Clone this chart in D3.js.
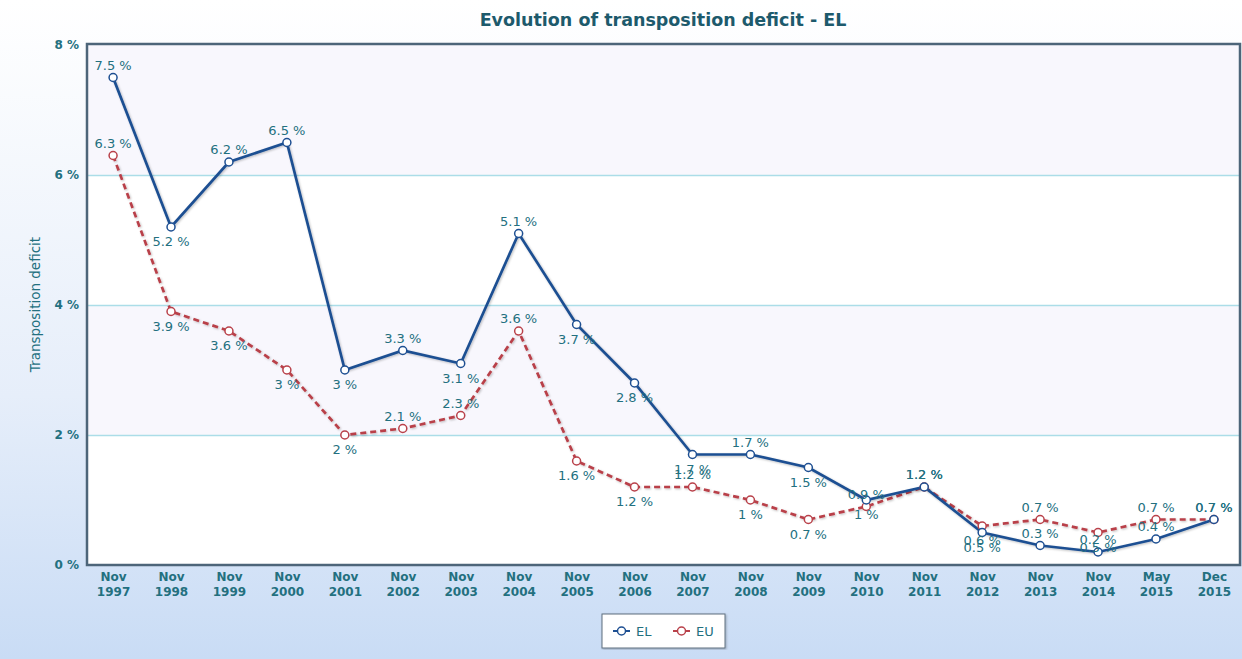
<!DOCTYPE html>
<html>
<head>
<meta charset="utf-8">
<script src="https://cdn.jsdelivr.net/npm/d3@7"></script>
<style>
  html, body { margin: 0; padding: 0; }
  body { width: 1242px; height: 659px; overflow: hidden; font-family: "DejaVu Sans", sans-serif; }
</style>
</head>
<body>
<svg id="chart" width="1242" height="659"></svg>
<script>
const months = ["Nov","Nov","Nov","Nov","Nov","Nov","Nov","Nov","Nov","Nov","Nov","Nov","Nov","Nov","Nov","Nov","Nov","Nov","May","Dec"];
const years = ["1997","1998","1999","2000","2001","2002","2003","2004","2005","2006","2007","2008","2009","2010","2011","2012","2013","2014","2015","2015"];
const elValues = [7.5, 5.2, 6.2, 6.5, 3, 3.3, 3.1, 5.1, 3.7, 2.8, 1.7, 1.7, 1.5, 1, 1.2, 0.5, 0.3, 0.2, 0.4, 0.7];
const euValues = [6.3, 3.9, 3.6, 3, 2, 2.1, 2.3, 3.6, 1.6, 1.2, 1.2, 1, 0.7, 0.9, 1.2, 0.6, 0.7, 0.5, 0.7, 0.7];
const yTicks = [0, 2, 4, 6, 8];

// label side: 1 above, -1 below
const elSide = [1,-1,1,1,-1,1,-1,1,-1,-1,-1,1,-1,-1,1,-1,1,1,1,1];
const euSide = [1,-1,-1,-1,-1,1,1,1,-1,-1,1,-1,-1,1,1,-1,1,-1,1,1];

const W = 1242, H = 659;
const m = {left: 87, right: 1240, top: 44, bottom: 565};
const teal = "#23707f";
const svg = d3.select("#chart");
const defs = svg.append("defs");

let bg = defs.append("linearGradient").attr("id", "bg").attr("x1", 0).attr("y1", 0).attr("x2", 0).attr("y2", 1);
bg.append("stop").attr("offset", "0%").attr("stop-color", "#ffffff");
bg.append("stop").attr("offset", "60%").attr("stop-color", "#e6eefa");
bg.append("stop").attr("offset", "100%").attr("stop-color", "#c9dcf5");

let sh = defs.append("filter").attr("id", "shadow").attr("x", "-5%").attr("y", "-5%").attr("width", "110%").attr("height", "110%");
sh.append("feDropShadow").attr("dx", 1).attr("dy", 1).attr("stdDeviation", 1).attr("flood-color", "#000").attr("flood-opacity", 0.25);

svg.append("rect").attr("width", W).attr("height", H).attr("fill", "url(#bg)");

let x = d3.scalePoint().domain(d3.range(years.length)).range([m.left, m.right]).padding(0.45);
let y = d3.scaleLinear().domain([0, 8]).range([m.bottom, m.top + 1]);

// alternating bands
svg.append("g").selectAll("rect").data(yTicks.slice(0, -1)).join("rect")
  .attr("x", m.left).attr("width", m.right - m.left)
  .attr("y", (d, i) => y(yTicks[i + 1])).attr("height", (d, i) => y(d) - y(yTicks[i + 1]))
  .attr("fill", (d, i) => i % 2 ? "#f8f7fd" : "#ffffff");

// grid
svg.append("g")
  .attr("transform", `translate(${m.left},0)`)
  .call(d3.axisLeft(y).tickValues(yTicks.filter(t => t > 0 && t < 8)).tickSize(-(m.right - m.left)).tickFormat(""))
  .call(g => g.select(".domain").remove())
  .call(g => g.selectAll("line").attr("stroke", "#abdde8").attr("stroke-width", 1.5));

// y tick labels
svg.append("g")
  .attr("transform", `translate(${m.left},0)`)
  .call(d3.axisLeft(y).tickValues(yTicks).tickSize(0).tickPadding(8).tickFormat(d => d + " %"))
  .call(g => g.select(".domain").remove())
  .call(g => g.selectAll("text").attr("fill", teal).attr("font-size", 12).attr("font-weight", "bold")
    .attr("font-family", "DejaVu Sans"));

// x tick labels
let xa = svg.append("g").attr("transform", `translate(0,${m.bottom})`)
  .call(d3.axisBottom(x).tickSize(0).tickFormat(""));
xa.select(".domain").remove();
xa.selectAll(".tick").each(function(d) {
  let t = d3.select(this).select("text")
    .attr("fill", teal).attr("font-size", 12).attr("font-weight", "bold")
    .attr("font-family", "DejaVu Sans").attr("y", 0);
  t.append("tspan").attr("x", 0).attr("dy", "1.3em").text(months[d]);
  t.append("tspan").attr("x", 0).attr("dy", "1.25em").text(years[d]);
});

// plot border
svg.append("rect")
  .attr("x", m.left).attr("y", m.top)
  .attr("width", m.right - m.left).attr("height", m.bottom - m.top)
  .attr("fill", "none").attr("stroke", "#4d6579").attr("stroke-width", 2.5);

let line = d3.line().x((d, i) => x(i)).y(d => y(d));

const series = [
  {name: "EL", values: elValues, side: elSide, color: "#1e4f92", dash: null},
  {name: "EU", values: euValues, side: euSide, color: "#b9414a", dash: "6,4"}
];

series.slice().reverse().forEach(s => {
  svg.append("path").datum(s.values)
    .attr("d", line).attr("fill", "none")
    .attr("stroke", s.color).attr("stroke-width", 2.7)
    .attr("stroke-dasharray", s.dash)
    .attr("filter", "url(#shadow)");
});
series.slice().reverse().forEach(s => {
  svg.append("g").selectAll("circle").data(s.values).join("circle")
    .attr("cx", (d, i) => x(i)).attr("cy", d => y(d)).attr("r", 4)
    .attr("fill", "#fff").attr("stroke", s.color).attr("stroke-width", 1.5);
});
series.forEach(s => {
  svg.append("g").selectAll("text").data(s.values).join("text")
    .attr("x", (d, i) => x(i))
    .attr("y", (d, i) => y(d) + (s.side[i] > 0 ? -8 : 19))
    .attr("text-anchor", "middle")
    .attr("fill", teal).attr("font-size", 13)
    .attr("font-family", "DejaVu Sans")
    .text(d => d + " %");
});

// title
svg.append("text").attr("x", 663).attr("y", 26).attr("text-anchor", "middle")
  .attr("fill", "#1d5a6c").attr("font-size", 17.5).attr("font-weight", "bold")
  .attr("font-family", "DejaVu Sans")
  .text("Evolution of transposition deficit - EL");

// y axis title
svg.append("text")
  .attr("transform", `translate(40,${(m.top + m.bottom) / 2}) rotate(-90)`)
  .attr("text-anchor", "middle").attr("fill", teal).attr("font-size", 13.5)
  .attr("font-family", "DejaVu Sans")
  .text("Transposition deficit");

// legend
let lg = svg.append("g").attr("transform", "translate(602,614)");
lg.append("rect").attr("width", 123).attr("height", 34).attr("fill", "#fff")
  .attr("stroke", "#5f6f7f").attr("stroke-width", 1).attr("filter", "url(#shadow)");
series.forEach((s, i) => {
  let g = lg.append("g").attr("transform", `translate(${11 + i * 60},17)`);
  g.append("line").attr("x1", 0).attr("x2", 17).attr("stroke", s.color).attr("stroke-width", 2);
  g.append("circle").attr("cx", 8.5).attr("r", 4).attr("fill", "#fff").attr("stroke", s.color).attr("stroke-width", 1.5);
  g.append("text").attr("x", 23).attr("y", 5).attr("fill", teal).attr("font-size", 13)
    .attr("font-family", "DejaVu Sans").text(s.name);
});
</script>
</body>
</html>
